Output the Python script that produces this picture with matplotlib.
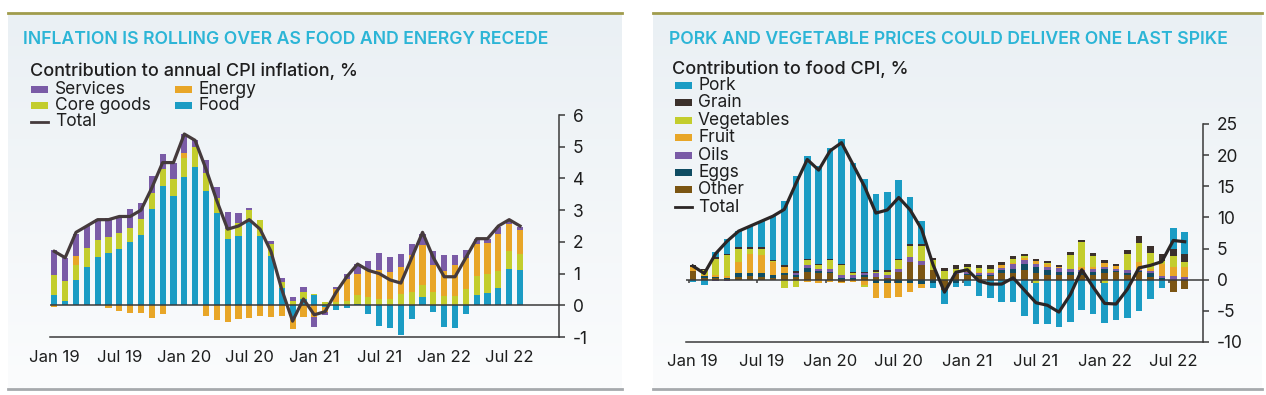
import numpy as np
import matplotlib.pyplot as plt
from matplotlib.patches import Rectangle
from matplotlib.lines import Line2D

plt.rcParams['font.family'] = ['Inter', 'DejaVu Sans']
plt.rcParams['axes.unicode_minus'] = False

W, H = 1266, 395

# %%
# Shared x axis: monthly, Jan 2019 - Aug 2022
tick_pos = [0, 6, 12, 18, 24, 30, 36, 42]
tick_labels = ['Jan 19', 'Jul 19', 'Jan 20', 'Jul 20', 'Jan 21', 'Jul 21', 'Jan 22', 'Jul 22']

# Left chart: contribution to annual CPI inflation, %
food = [0.34, 0.12, 0.81, 1.2, 1.51, 1.64, 1.79, 1.98, 2.21, 3.05, 3.77, 3.44,
        4.06, 4.35, 3.61, 2.9, 2.08, 2.19, 2.65, 2.19, 1.54, 0.55, -0.4, 0.2,
        0.31, -0.05, -0.14, -0.1, 0.05, -0.29, -0.65, -0.73, -0.94, -0.42, 0.26, -0.21,
        -0.68, -0.71, -0.26, 0.34, 0.4, 0.54, 1.15, 1.11]
core_goods = [0.6, 0.64, 0.45, 0.62, 0.55, 0.5, 0.5, 0.47, 0.5, 0.49, 0.52, 0.54,
              0.57, 0.65, 0.55, 0.49, 0.31, 0.42, 0.36, 0.49, 0.39, 0.2, 0.12, 0.22,
              0.05, 0.1, 0.1, 0.12, 0.26, 0.26, 0.21, 0.21, 0.36, 0.42, 0.37, 0.42,
              0.28, 0.28, 0.52, 0.59, 0.59, 0.53, 0.55, 0.52]
energy = [-0.05, 0.0, 0.3, 0.0, 0.0, -0.1, -0.18, -0.23, -0.24, -0.4, -0.28, 0.0,
          0.16, 0.0, -0.33, -0.45, -0.52, -0.42, -0.4, -0.33, -0.36, -0.35, -0.35, -0.38,
          -0.36, -0.15, 0.4, 0.7, 0.68, 0.85, 0.9, 0.83, 0.85, 1.18, 1.26, 0.86,
          0.81, 1.0, 0.97, 0.99, 0.96, 1.19, 0.85, 0.73]
services = [0.81, 0.72, 0.68, 0.68, 0.65, 0.62, 0.52, 0.59, 0.52, 0.54, 0.49, 0.5,
            0.61, 0.2, 0.42, 0.33, 0.54, 0.29, 0.05, 0.0, 0.1, 0.1, 0.13, 0.16,
            -0.31, -0.1, 0.08, 0.18, 0.31, 0.29, 0.55, 0.49, 0.42, 0.33, 0.35, 0.42,
            0.5, 0.31, 0.26, 0.16, 0.14, 0.21, 0.12, 0.1]
cpi_total = [1.7, 1.5, 2.3, 2.5, 2.7, 2.7, 2.8, 2.8, 3.0, 3.7, 4.5, 4.5,
             5.4, 5.2, 4.3, 3.3, 2.4, 2.5, 2.7, 2.4, 1.7, 0.5, -0.5, 0.2,
             -0.3, -0.2, 0.4, 0.9, 1.3, 1.1, 1.0, 0.8, 0.7, 1.5, 2.3, 1.5,
             0.9, 0.9, 1.5, 2.1, 2.1, 2.5, 2.7, 2.5]

# Right chart: contribution to food CPI, %
other = [1.4, 0.3, 0.3, 0.1, 0.5, 0.6, 0.5, 0.3, 0.7, 0.5, 1.2, 1.0,
         1.0, -0.3, 0.0, 0.5, 0.5, 0.3, 1.3, 2.9, 2.4, 1.5, -1.6, 0.9,
         0.8, 0.6, 0.6, 1.0, 1.0, 1.5, 1.0, 0.7, 0.7, 0.7, 0.7, 0.7,
         1.0, 1.2, 0.7, 1.2, 0.5, 0.0, -2.0, -1.5]
eggs = [0.0, 0.3, 0.2, 0.2, 0.5, 0.4, 0.5, 0.4, 0.3, 0.3, 0.7, 0.4,
        0.2, 0.2, 0.2, 0.2, -0.6, -0.6, -0.5, -0.5, -0.7, -0.5, 0.0, -0.5,
        0.1, 0.1, 0.1, 0.5, 0.7, 1.0, 1.1, 0.8, 0.5, 0.5, 0.5, 0.5,
        0.7, 0.2, 0.4, 0.2, 0.6, 0.2, 0.0, 0.0]
oils = [0.0, 0.0, -0.2, -0.2, 0.0, 0.0, 0.0, 0.0, 0.0, 0.3, 0.5, 0.4,
        0.5, 0.5, 0.5, 0.4, 0.5, 0.5, 0.5, 0.7, 0.6, 0.0, 0.0, 0.1,
        0.4, 0.4, 0.4, 0.4, 0.8, 0.6, 0.5, 0.6, 0.7, 0.5, 0.4, 0.6,
        0.4, 0.3, 0.4, 0.2, 0.3, 0.4, 0.6, 0.5]
fruit = [0.7, 0.2, 0.3, 0.3, 1.9, 3.1, 3.0, 2.1, 1.1, 0.0, -0.4, -0.5,
         -0.3, -0.3, -0.4, -0.8, -2.4, -2.4, -2.3, -1.5, -0.7, 0.0, 0.0, 0.1,
         0.2, 0.2, 0.2, 0.4, 0.2, 0.4, 0.4, 0.5, 0.1, 0.1, 0.5, 0.2,
         0.6, 0.5, 0.0, 1.2, 0.4, 1.9, 1.5, 1.5]
vegetables = [0.0, 0.7, 2.6, 3.3, 2.1, 0.8, 1.0, 0.2, -1.3, -1.2, 0.7, 0.6,
              1.5, 1.6, 0.3, -0.4, 0.3, 0.4, 1.3, 1.8, 2.4, 1.6, 1.35, 0.7,
              0.6, 0.6, 0.5, 0.1, 0.7, 0.3, -0.5, 0.1, 0.0, 2.2, 3.9, 1.8,
              -0.5, 0.0, 2.6, 3.1, 2.5, 0.5, 1.7, 0.9]
grain = [0.3, 0.2, 0.2, 0.2, 0.2, 0.3, 0.2, 0.2, 0.2, 0.3, 0.2, 0.2,
         0.2, 0.2, 0.2, 0.2, 0.3, 0.3, 0.3, 0.4, 0.4, 0.45, 0.55, 0.5,
         0.5, 0.5, 0.5, 0.4, 0.4, 0.4, 0.4, 0.3, 0.4, 0.4, 0.4, 0.5,
         0.4, 0.4, 0.6, 1.1, 1.1, 1.2, 1.1, 1.2]
pork = [-0.4, -0.9, 0.8, 2.4, 2.6, 3.5, 4.3, 7.1, 10.4, 15.2, 16.5, 15.6,
        17.7, 20.1, 17.5, 14.8, 12.1, 12.6, 12.6, 7.4, 3.6, -0.9, -2.3, -0.6,
        -1.0, -2.6, -3.0, -3.5, -3.5, -5.9, -6.6, -7.1, -7.6, -6.8, -4.8, -5.5,
        -6.4, -6.5, -6.2, -5.1, -3.1, -1.3, 3.4, 3.5]
food_total = [2.2, 1.0, 4.2, 6.2, 7.8, 8.6, 9.4, 10.2, 11.3, 15.4, 19.3, 17.6,
              20.7, 22.0, 18.5, 15.0, 10.7, 11.2, 13.2, 11.2, 8.1, 2.4, -2.0, 1.2,
              1.6, -0.2, -0.7, -0.7, 0.3, -1.7, -3.7, -4.1, -5.2, -2.4, 1.6, -1.2,
              -3.8, -3.9, -1.5, 1.9, 2.3, 2.9, 6.3, 6.1]

TEAL = '#1b9cc4'
ORANGE = '#e8a628'
LIME = '#c3cd2d'
PURPLE = '#7a5ba6'
GRAIN_C = '#3b302c'
EGGS_C = '#0f4c62'
OTHER_C = '#7b5513'
TITLE_C = '#2cb5d6'
TEXT_C = '#1e1e1e'
AXIS_C = '#3a3a3a'

LEG_FS = 12.5


def px_axes(fig, x0, y0, x1, y1, **kw):
    return fig.add_axes([x0 / W, 1 - y1 / H, (x1 - x0) / W, (y1 - y0) / H], **kw)


def stack_bars(ax, series, colors, width=0.57):
    x = np.arange(len(series[0]))
    pos = np.zeros(len(x))
    neg = np.zeros(len(x))
    for vals, c in zip(series, colors):
        v = np.array(vals, dtype=float)
        ax.bar(x, v, width, bottom=np.where(v >= 0, pos, neg), color=c, linewidth=0, zorder=2)
        pos += np.clip(v, 0, None)
        neg += np.clip(v, None, 0)


def style_axes(ax, xlim, ylim, yticks):
    ax.set_xlim(*xlim)
    ax.set_ylim(*ylim)
    ax.patch.set_alpha(0)
    for s in ['top', 'left']:
        ax.spines[s].set_visible(False)
    for s in ['right', 'bottom']:
        ax.spines[s].set_color(AXIS_C)
        ax.spines[s].set_linewidth(1.1)
    ax.yaxis.tick_right()
    ax.set_yticks(yticks)
    ax.set_yticklabels([str(t) for t in yticks])
    ax.tick_params(axis='y', direction='out', length=4, width=1.1, color=AXIS_C,
                   pad=6, labelsize=12.5, labelcolor=TEXT_C)
    ax.set_xticks(tick_pos)
    ax.set_xticklabels(tick_labels)
    ax.tick_params(axis='x', length=0, pad=9, labelsize=12, labelcolor=TEXT_C)
    ax.axhline(0, color=AXIS_C, lw=1.1, zorder=3)


def panel_background(fig, x0, x1, y0=14, y1=388):
    bg = px_axes(fig, x0, y0, x1, y1, zorder=-10)
    grad = np.linspace(0, 1, 256).reshape(-1, 1)
    top = np.array([234, 240, 244]) / 255
    bot = np.array([251, 252, 253]) / 255
    img = top + (bot - top) * grad[..., None]
    bg.imshow(img, aspect='auto', extent=[0, 1, 0, 1])
    bg.axis('off')
    fig.add_artist(Line2D([x0 / W, x1 / W], [1 - 13 / H] * 2, color='#a09c4c', lw=2))
    fig.add_artist(Line2D([x0 / W, x1 / W], [1 - 389 / H] * 2, color='#a6a9ad', lw=2))


def legend_patch(fig, x, y, color):
    fig.add_artist(Rectangle((x / W, 1 - (y + 3.5) / H), 17 / W, 7 / H,
                             color=color, transform=fig.transFigure, lw=0))


def legend_line(fig, x, y, color):
    fig.add_artist(Line2D([x / W, (x + 17) / W], [1 - y / H] * 2, color=color, lw=2))


def legend_text(fig, x, y, s):
    fig.text(x / W, 1 - y / H, s, fontsize=LEG_FS, color=TEXT_C, va='center', ha='left')


# %%
fig = plt.figure(figsize=(W / 100, H / 100), dpi=100)
fig.patch.set_facecolor('white')

panel_background(fig, 8, 622)
panel_background(fig, 653, 1262)

# Left chart
ax1 = px_axes(fig, 50, 115, 559, 337)
stack_bars(ax1, [food, core_goods, energy, services], [TEAL, LIME, ORANGE, PURPLE])
ax1.plot(np.arange(len(cpi_total)), cpi_total, color='#453a3c', lw=2.3, zorder=4)
style_axes(ax1, (-0.4, 46.6), (-1, 6), [-1, 0, 1, 2, 3, 4, 5, 6])

fig.text(23 / W, 1 - 40 / H, 'INFLATION IS ROLLING OVER AS FOOD AND ENERGY RECEDE',
         fontsize=12.7, fontweight='semibold', color=TITLE_C, va='center')
fig.text(30 / W, 1 - 71 / H, 'Contribution to annual CPI inflation, %',
         fontsize=13, fontweight='medium', color=TEXT_C, va='center')
legend_patch(fig, 31, 89, PURPLE)
legend_text(fig, 55, 89, 'Services')
legend_patch(fig, 31, 106, LIME)
legend_text(fig, 55, 106, 'Core goods')
legend_line(fig, 31, 122, '#453a3c')
legend_text(fig, 55, 122, 'Total')
legend_patch(fig, 175, 89, ORANGE)
legend_text(fig, 199, 89, 'Energy')
legend_patch(fig, 175, 106, TEAL)
legend_text(fig, 199, 106, 'Food')

# Right chart
ax2 = px_axes(fig, 686, 124, 1203, 342)
stack_bars(ax2, [other, eggs, oils, fruit, vegetables, grain, pork],
           [OTHER_C, EGGS_C, PURPLE, ORANGE, LIME, GRAIN_C, TEAL])
ax2.plot(np.arange(len(food_total)), food_total, color='#2b2626', lw=2.3, zorder=4)
style_axes(ax2, (-0.6, 44.6), (-10, 25), [-10, -5, 0, 5, 10, 15, 20, 25])
ax2.vlines(np.array(tick_pos) - 0.35, -0.6, 0, color=AXIS_C, lw=1.1, zorder=3)

fig.text(669 / W, 1 - 40 / H, 'PORK AND VEGETABLE PRICES COULD DELIVER ONE LAST SPIKE',
         fontsize=12.7, fontweight='semibold', color=TITLE_C, va='center')
fig.text(672 / W, 1 - 69.5 / H, 'Contribution to food CPI, %',
         fontsize=13, fontweight='medium', color=TEXT_C, va='center')
right_items = [('Pork', TEAL), ('Grain', GRAIN_C), ('Vegetables', LIME), ('Fruit', ORANGE),
               ('Oils', PURPLE), ('Eggs', EGGS_C), ('Other', OTHER_C)]
for k, (name, c) in enumerate(right_items):
    yy = 85.5 + k * 17.4
    legend_patch(fig, 675, yy, c)
    legend_text(fig, 698, yy, name)
legend_line(fig, 675, 85.5 + 7 * 17.4, '#2b2626')
legend_text(fig, 698, 85.5 + 7 * 17.4, 'Total')

fig.savefig('out.png', dpi=100)
